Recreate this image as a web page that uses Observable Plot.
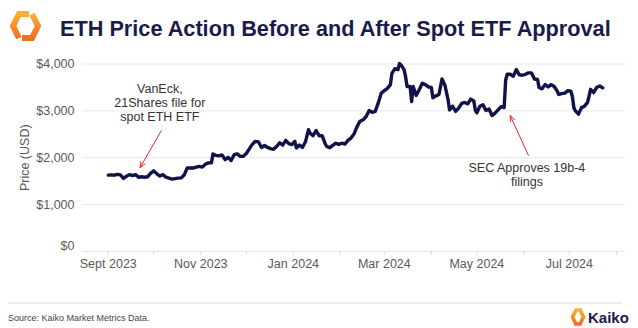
<!DOCTYPE html>
<html>
<head>
<meta charset="utf-8">
<script src="https://cdn.jsdelivr.net/npm/d3@7"></script>
<script src="https://cdn.jsdelivr.net/npm/@observablehq/plot@0.6"></script>
<style>
  html, body { margin: 0; padding: 0; background: #fff; }
  body { width: 638px; height: 328px; position: relative; overflow: hidden; font-family: "Liberation Sans", Arial, sans-serif; }
  #header, #footer { position: absolute; left: 0; }
  #header { top: 0; }
  #chart { position: absolute; left: 0; top: 50px; }
  #footer { top: 296px; }
</style>
</head>
<body>
<svg id="header" width="638" height="50">
  <defs>
    <linearGradient id="lg1" x1="0" y1="1" x2="0" y2="0">
      <stop offset="0" stop-color="#f36b21"/>
      <stop offset="1" stop-color="#fbb034"/>
    </linearGradient>
  </defs>
  <path d="M29,14 L19,14 L13,26 L19,38" fill="none" stroke="url(#lg1)" stroke-width="6" stroke-linejoin="miter"/>
  <path d="M22,38 L32,38 L38,26 L32,14" fill="none" stroke="url(#lg1)" stroke-width="6" stroke-linejoin="miter"/>
  <text x="60" y="36" font-family="Liberation Sans, Arial, sans-serif" font-weight="bold" font-size="21.7" fill="#1a1b4b">ETH Price Action Before and After Spot ETF Approval</text>
</svg>
<div id="chart"></div>
<svg id="footer" width="638" height="32">
  <defs>
    <linearGradient id="lg2" x1="0" y1="1" x2="0" y2="0">
      <stop offset="0" stop-color="#f36b21"/>
      <stop offset="1" stop-color="#fbb034"/>
    </linearGradient>
  </defs>
  <line x1="8" x2="622" y1="7" y2="7" stroke="#dcdcdc" stroke-width="1"/>
  <text x="8" y="25" font-family="Liberation Sans, Arial, sans-serif" font-size="9" fill="#444">Source: Kaiko Market Metrics Data.</text>
  <path d="M582,14 L576,14 L572.5,21 L576,28" fill="none" stroke="url(#lg2)" stroke-width="3.6"/>
  <path d="M574,28 L580,28 L583.5,21 L580,14" fill="none" stroke="url(#lg2)" stroke-width="3.6"/>
  <text x="588" y="27" font-family="Liberation Sans, Arial, sans-serif" font-weight="bold" font-size="15" fill="#1a1b4b">Kaiko</text>
</svg>
<script>
// ---- data ----
const priceDates = [
"2023-09-01","2023-09-03","2023-09-05","2023-09-07","2023-09-09","2023-09-11","2023-09-13","2023-09-15","2023-09-17","2023-09-19",
"2023-09-21","2023-09-23","2023-09-25","2023-09-27","2023-09-29","2023-10-01","2023-10-03","2023-10-05","2023-10-07","2023-10-09",
"2023-10-11","2023-10-13","2023-10-15","2023-10-17","2023-10-19","2023-10-21","2023-10-23","2023-10-25","2023-10-27","2023-10-29",
"2023-10-31","2023-11-02","2023-11-04","2023-11-06","2023-11-08","2023-11-09","2023-11-11","2023-11-13","2023-11-15","2023-11-17",
"2023-11-19","2023-11-21","2023-11-23","2023-11-25","2023-11-27","2023-11-29","2023-12-01","2023-12-03","2023-12-05","2023-12-07",
"2023-12-09","2023-12-11","2023-12-13","2023-12-15","2023-12-17","2023-12-19","2023-12-21","2023-12-23","2023-12-25","2023-12-27",
"2023-12-29","2023-12-31","2024-01-02","2024-01-03","2024-01-05","2024-01-07","2024-01-09","2024-01-11","2024-01-12","2024-01-14",
"2024-01-16","2024-01-18","2024-01-20","2024-01-22","2024-01-23","2024-01-25","2024-01-27","2024-01-29","2024-01-31","2024-02-02",
"2024-02-04","2024-02-06","2024-02-08","2024-02-10","2024-02-12","2024-02-14","2024-02-16","2024-02-18","2024-02-20","2024-02-22",
"2024-02-24","2024-02-26","2024-02-28","2024-03-01","2024-03-03","2024-03-05","2024-03-06","2024-03-08","2024-03-10","2024-03-11",
"2024-03-12","2024-03-14","2024-03-15","2024-03-16","2024-03-18","2024-03-19","2024-03-20","2024-03-22","2024-03-24","2024-03-26",
"2024-03-28","2024-03-30","2024-04-01","2024-04-02","2024-04-04","2024-04-06","2024-04-08","2024-04-10","2024-04-12","2024-04-13",
"2024-04-15","2024-04-17","2024-04-19","2024-04-21","2024-04-23","2024-04-25","2024-04-27","2024-04-29","2024-04-30","2024-05-01",
"2024-05-03","2024-05-05","2024-05-07","2024-05-09","2024-05-11","2024-05-13","2024-05-15","2024-05-17","2024-05-19","2024-05-20",
"2024-05-21","2024-05-23","2024-05-25","2024-05-27","2024-05-29","2024-05-31","2024-06-02","2024-06-04","2024-06-06","2024-06-08",
"2024-06-10","2024-06-11","2024-06-13","2024-06-15","2024-06-17","2024-06-19","2024-06-21","2024-06-23","2024-06-24","2024-06-26",
"2024-06-28","2024-06-30","2024-07-02","2024-07-03","2024-07-04","2024-07-05","2024-07-07","2024-07-09","2024-07-11","2024-07-13",
"2024-07-15","2024-07-17","2024-07-19","2024-07-21","2024-07-23"
];
const priceValues = [
1630,1635,1628,1645,1635,1560,1605,1640,1620,1640,
1585,1595,1585,1595,1670,1720,1655,1610,1640,1585,
1565,1545,1555,1565,1570,1630,1780,1785,1780,1800,
1815,1800,1860,1890,1890,2080,2050,2040,2060,1960,
2010,1940,2065,2085,2030,2030,2090,2190,2290,2350,
2340,2220,2260,2220,2195,2180,2240,2320,2270,2370,
2300,2280,2350,2210,2270,2220,2340,2600,2525,2470,
2580,2470,2470,2300,2240,2215,2265,2310,2285,2310,
2290,2370,2420,2505,2665,2780,2810,2880,3010,2970,
2990,3170,3380,3430,3480,3560,3800,3900,3880,4010,
3980,3880,3730,3520,3520,3200,3520,3330,3450,3590,
3560,3510,3500,3280,3320,3350,3680,3540,3240,3020,
3100,2990,3060,3160,3180,3150,3250,3210,3010,2960,
3100,3130,3010,3040,2900,2950,3020,3090,3070,3660,
3780,3780,3740,3880,3770,3760,3780,3810,3810,3680,
3670,3500,3470,3560,3510,3560,3520,3420,3350,3370,
3380,3430,3420,3300,3060,3000,2930,3070,3100,3180,
3460,3390,3500,3530,3490
];
const yTicks = [0, 1000, 2000, 3000, 4000];
const xTickDates = ["2023-09-01","2023-11-01","2024-01-01","2024-03-01","2024-05-01","2024-07-01"];
const xTickLabels = ["Sept 2023","Nov 2023","Jan 2024","Mar 2024","May 2024","Jul 2024"];
const monthTickDates = ["2023-09-01","2023-10-01","2023-11-01","2023-12-01","2024-01-01","2024-02-01","2024-03-01","2024-04-01","2024-05-01","2024-06-01","2024-07-01","2024-08-01"];
const noteTexts = ["VanEck,\n21Shares file for\nspot ETH ETF", "SEC Approves 19b-4\nfilings"];
const noteDates = ["2023-10-05", "2024-06-03"];
const noteValues = [3180, 1640];
const arrowFromDates = ["2023-10-06", "2024-06-04"];
const arrowFromValues = [2580, 2050];
const arrowToDates = ["2023-09-22", "2024-05-23"];
const arrowToValues = [1790, 2900];

// ---- build ----
const parse = d3.utcParse("%Y-%m-%d");
const series = priceDates.map((d, i) => ({date: parse(d), price: priceValues[i]}));
const notes = noteTexts.map((t, i) => ({text: t, date: parse(noteDates[i]), value: noteValues[i]}));
const arrows = arrowFromDates.map((d, i) => ({
  x1: parse(d), y1: arrowFromValues[i], x2: parse(arrowToDates[i]), y2: arrowToValues[i]
}));
const labelMap = new Map(xTickDates.map((d, i) => [+parse(d), xTickLabels[i]]));
const fmt = d3.format(",");
const yFmt = d => "$" + fmt(d);

const chart = Plot.plot({
  width: 638,
  height: 246,
  marginLeft: 82,
  marginRight: 13,
  marginTop: 13.5,
  marginBottom: 45,
  style: {fontFamily: "Liberation Sans, Arial, sans-serif", background: "transparent", overflow: "visible"},
  x: {type: "utc", domain: [parse("2023-08-15"), parse("2024-08-07")]},
  y: {domain: [0, 4000]},
  marks: [
    Plot.gridY(yTicks, {stroke: "#e6e6e6", strokeOpacity: 1, strokeWidth: 1}),
    Plot.axisX({ticks: monthTickDates.map(parse), tickSize: 4, tickFormat: () => "", stroke: "#dadada"}),
    Plot.axisX({ticks: xTickDates.map(parse), tickSize: 0, tickPadding: 8, fontSize: 12.5, fill: "#595959",
      tickFormat: d => labelMap.get(+d), label: null}),
    Plot.axisY({ticks: yTicks.filter(v => v > 0), tickSize: 0, tickPadding: 8, fontSize: 12.5, fill: "#595959",
      tickFormat: yFmt, label: "Price (USD)", labelAnchor: "center", labelArrow: "none", labelOffset: 62}),
    Plot.axisY({ticks: yTicks.filter(v => v === 0), tickSize: 0, tickPadding: 8, fontSize: 12.5, fill: "#595959",
      tickFormat: yFmt, label: null, dy: -6}),
    Plot.line(series, {x: "date", y: "price", stroke: "#10134a", strokeWidth: 3.4, strokeLinejoin: "round"}),
    Plot.arrow(arrows, {x1: "x1", y1: "y1", x2: "x2", y2: "y2", stroke: "#e8262b", strokeWidth: 1, headLength: 9, headAngle: 45}),
    Plot.text(notes, {x: "date", y: "value", text: "text", fontSize: 12.5, fill: "#333", lineHeight: 1.15, lineAnchor: "middle", textAnchor: "middle"})
  ]
});
document.getElementById("chart").appendChild(chart);
</script>
</body>
</html>
